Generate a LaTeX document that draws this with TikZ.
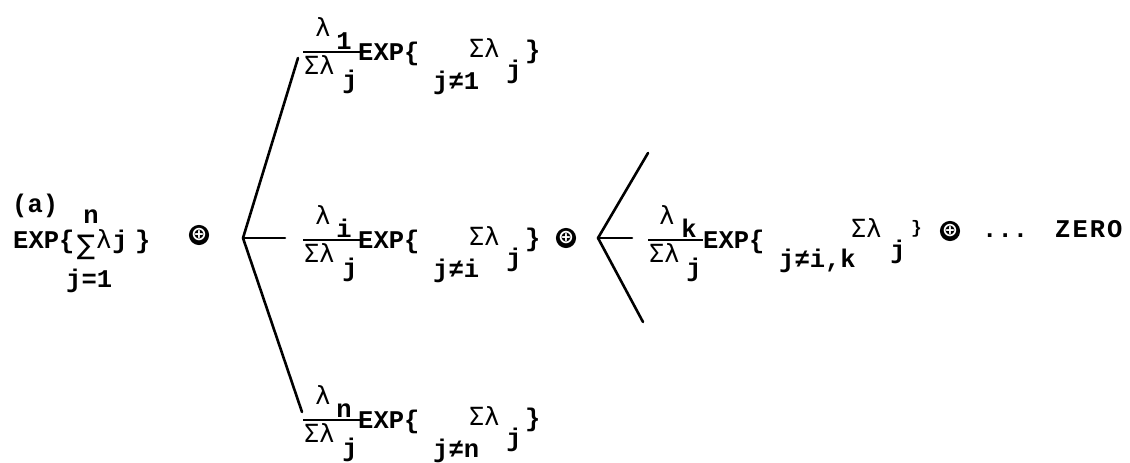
\documentclass[tikz,border=0pt]{standalone}
\usepackage{fontspec}
\setmainfont{Liberation Mono}
\newfontfamily\symfont{DejaVu Sans}
\newfontfamily\grk{DejaVu Sans Mono}
\begin{document}
\begin{tikzpicture}[x=1pt,y=-1pt,
  tx/.style={inner sep=0pt, anchor=base, font=\fontsize{25.5}{26}\selectfont\bfseries},
  gk/.style={inner sep=0pt, anchor=base, font=\grk\fontsize{25}{26}\selectfont},
  op/.style={circle, fill=black, text=white, inner sep=0pt, minimum size=12.5pt,
             font=\symfont\bfseries\fontsize{19}{19}\selectfont},
  br/.style={line width=2.6pt, line cap=round},
  fbar/.style={line width=1.8pt}]
\useasboundingbox (0,0) rectangle (1130,463);

% left block
\node[tx, anchor=base west] (a) at (12,212) {(a)};
\node[tx] (n0) at (91,223) {n};
\node[tx, anchor=base west] (e0) at (13,248) {EXP\{};
\node[gk, font=\symfont\fontsize{27}{27}\selectfont] (s0) at (86,254) {∑};
\node[gk] (l0) at (104,248) {λ};
\node[tx] (j0) at (120,248) {j};
\node[tx, anchor=base west] (r0) at (135,248) {\}};
\node[tx, anchor=base west] (c0) at (66,287) {j=1};
\node[op] (p0) at (199,235) {⊕};

% first branching
\coordinate (v1) at (243,238);
\coordinate (v1t) at (298,58);
\coordinate (v1m) at (285,238);
\coordinate (v1b) at (302,412);
\draw[br] (v1) -- (v1t);
\draw[br] (v1) -- (v1m);
\draw[br] (v1) -- (v1b);

\foreach \r/\dy/\s in {t/-188/1, m/0/i, b/180/n}{
  \node[gk] (lam\r) at (323,{224+\dy}) {λ};
  \node[tx] (num\r) at (344,{237+\dy}) {\s};
  \coordinate (bl\r) at (303,{240+\dy});
  \coordinate (br\r) at (360,{240+\dy});
  \draw[fbar] (bl\r) -- (br\r);
  \node[gk, anchor=base west] (den\r) at (304,{262+\dy}) {Σλ};
  \node[tx] (dj\r) at (350,{276+\dy}) {j};
  \node[tx, anchor=base west] (exp\r) at (358,{248+\dy}) {EXP\{};
  \node[tx, anchor=base west] (cond\r) at (433,{277+\dy}) {j≠\s};
  \node[gk, anchor=base west] (sum\r) at (469,{245+\dy}) {Σλ};
  \node[tx] (sj\r) at (514,{266+\dy}) {j};
  \node[tx, anchor=base west] (rb\r) at (525,{246+\dy}) {\}};
}

\node[op] (p1) at (566,238) {⊕};

% second branching
\coordinate (v2) at (598,238);
\coordinate (v2t) at (648,153);
\coordinate (v2m) at (632,238);
\coordinate (v2b) at (643,322);
\draw[br] (v2) -- (v2t);
\draw[br] (v2) -- (v2m);
\draw[br] (v2) -- (v2b);

\node[gk] (lamk) at (667,224) {λ};
\node[tx] (numk) at (689,237) {k};
\coordinate (blk) at (648,240);
\coordinate (brk) at (703,240);
\draw[fbar] (blk) -- (brk);
\node[gk, anchor=base west] (denk) at (649,262) {Σλ};
\node[tx] (djk) at (694,276) {j};
\node[tx, anchor=base west] (expk) at (703,248) {EXP\{};
\node[tx, anchor=base west] (condk) at (779,267) {j≠i,k};
\node[gk, anchor=base west] (sumk) at (851,237) {Σλ};
\node[tx] (sjk) at (898,258) {j};
\node[tx, anchor=base west, font=\fontsize{18}{18}\selectfont\bfseries] (rbk) at (911,233) {\}};
\node[op] (p2) at (950,231) {⊕};
\node[tx, anchor=base west] (dots) at (982,237) {...};
\node[tx, anchor=base west] (zero) at (1055,237) {Z\hspace{2pt}E\hspace{2pt}R\hspace{2pt}O};
\end{tikzpicture}
\end{document}
